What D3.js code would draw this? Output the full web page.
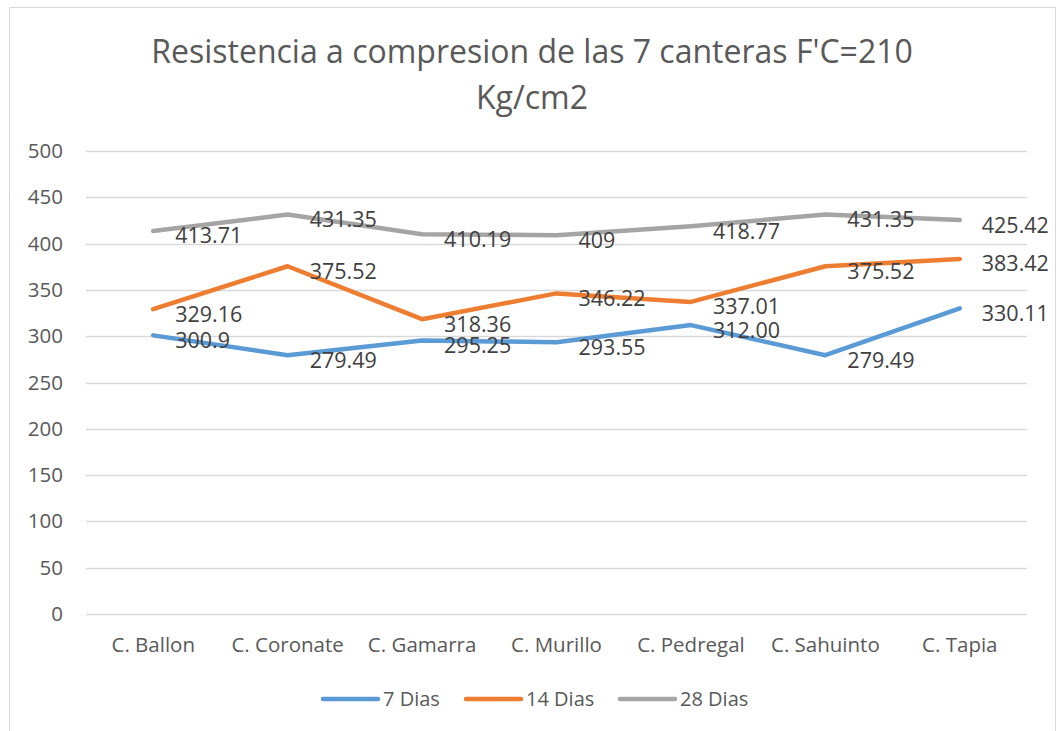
<!DOCTYPE html>
<html>
<head>
<meta charset="utf-8">
<script src="https://cdn.jsdelivr.net/npm/d3@7"></script>
<style>
  body { margin: 0; background: #fff; }
  text { font-family: "Open Sans", sans-serif; }
</style>
</head>
<body>
<div id="chart"></div>
<script>
// chart data
const categories = ["C. Ballon", "C. Coronate", "C. Gamarra", "C. Murillo", "C. Pedregal", "C. Sahuinto", "C. Tapia"];
const seriesNames = ["7 Dias", "14 Dias", "28 Dias"];
const dias7 = [300.9, 279.49, 295.25, 293.55, 312.00, 279.49, 330.11];
const dias14 = [329.16, 375.52, 318.36, 346.22, 337.01, 375.52, 383.42];
const dias28 = [413.71, 431.35, 410.19, 409, 418.77, 431.35, 425.42];
const labels7 = ["300.9", "279.49", "295.25", "293.55", "312.00", "279.49", "330.11"];
const labels14 = ["329.16", "375.52", "318.36", "346.22", "337.01", "375.52", "383.42"];
const labels28 = ["413.71", "431.35", "410.19", "409", "418.77", "431.35", "425.42"];
const yTicks = [0, 50, 100, 150, 200, 250, 300, 350, 400, 450, 500];

const colors = ["#5B9BD5", "#ED7D31", "#A5A5A5"];
const series = [
  { name: seriesNames[0], values: dias7, labels: labels7, color: colors[0] },
  { name: seriesNames[1], values: dias14, labels: labels14, color: colors[1] },
  { name: seriesNames[2], values: dias28, labels: labels28, color: colors[2] }
];

const width = 1057;
const height = 731;
const margin = { left: 86, right: 30, top: 151, bottom: 117 };

const svg = d3.select("#chart").append("svg")
  .attr("width", width)
  .attr("height", height);

// outer chart border
svg.append("rect")
  .attr("x", 9.5).attr("y", 7.5)
  .attr("width", 1046).attr("height", 740)
  .attr("fill", "#fff")
  .attr("stroke", "#d9d9d9")
  .attr("stroke-width", 1);

// title
const title = svg.append("text")
  .attr("text-anchor", "middle")
  .attr("fill", "#595959")
  .style("font-size", "32px");
title.append("tspan").attr("x", 532).attr("y", 63).text("Resistencia a compresion de las 7 canteras F'C=210");
title.append("tspan").attr("x", 532).attr("y", 109).text("Kg/cm2");

const x = d3.scaleBand()
  .domain(categories)
  .range([margin.left, width - margin.right]);

const y = d3.scaleLinear()
  .domain([0, 500])
  .range([height - margin.bottom, margin.top]);

// gridlines
svg.append("g")
  .selectAll("line")
  .data(yTicks)
  .join("line")
  .attr("x1", margin.left)
  .attr("x2", width - margin.right)
  .attr("y1", d => Math.round(y(d)) + 0.5)
  .attr("y2", d => Math.round(y(d)) + 0.5)
  .attr("stroke", "#d9d9d9")
  .attr("stroke-width", 1.3);

// y axis labels
const yAxis = svg.append("g")
  .attr("transform", `translate(${margin.left - 23}, 0)`)
  .call(d3.axisLeft(y).tickValues(yTicks).tickSize(0).tickPadding(0));
yAxis.select(".domain").remove();
yAxis.selectAll("text")
  .attr("fill", "#595959")
  .style("font-size", "20.5px")
  .style("font-family", "'Open Sans', sans-serif");

// x axis labels
const xAxis = svg.append("g")
  .attr("transform", `translate(0, ${height - margin.bottom + 23})`)
  .call(d3.axisBottom(x).tickSize(0).tickPadding(0));
xAxis.select(".domain").remove();
xAxis.selectAll("text")
  .attr("fill", "#595959")
  .attr("dy", "0.71em")
  .style("font-size", "20.5px")
  .style("font-family", "'Open Sans', sans-serif");

const cx = d => x(d) + x.bandwidth() / 2;

const line = d3.line()
  .x((d, i) => cx(categories[i]))
  .y(d => y(d));

series.forEach(s => {
  svg.append("path")
    .datum(s.values)
    .attr("fill", "none")
    .attr("stroke", s.color)
    .attr("stroke-width", 4.5)
    .attr("stroke-linejoin", "round")
    .attr("stroke-linecap", "round")
    .attr("d", line);
});

// data labels
series.forEach(s => {
  svg.append("g")
    .selectAll("text")
    .data(s.values)
    .join("text")
    .attr("x", (d, i) => cx(categories[i]) + 22)
    .attr("y", d => y(d) + 5)
    .attr("dy", "0.35em")
    .attr("fill", "#404040")
    .style("font-size", "21.5px")
    .text((d, i) => s.labels[i]);
});

// legend
const legendX = [323, 466, 620];
const legend = svg.append("g");
series.forEach((s, i) => {
  const g = legend.append("g").attr("transform", `translate(${legendX[i]}, 699)`);
  g.append("line")
    .attr("x1", 0).attr("x2", 55)
    .attr("y1", 0).attr("y2", 0)
    .attr("stroke", s.color)
    .attr("stroke-width", 4.5)
    .attr("stroke-linecap", "round");
  g.append("text")
    .attr("x", 60).attr("y", 0)
    .attr("dy", "0.35em")
    .attr("fill", "#595959")
    .style("font-size", "20px")
    .text(s.name);
});
</script>
</body>
</html>
